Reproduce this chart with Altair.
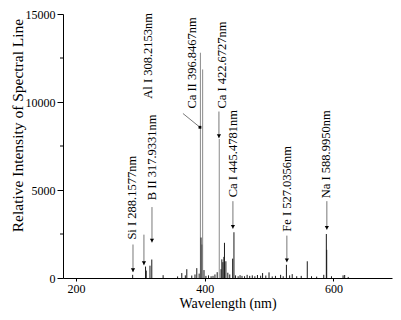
import altair as alt
import pandas as pd

# Spectrum lines: wavelength (nm) and relative intensity
wavelengths = [288.2, 308.2, 309.3, 315.1, 317.9, 335.5, 358.0, 364.5, 370.0, 372.3,
               380.0, 385.0, 387.8, 391.5, 393.4, 394.4, 396.2, 396.9, 399.0,
               402.0, 406.0, 410.0, 413.0, 416.0, 419.5, 422.7, 425.5, 426.7, 428.3,
               429.9, 430.8, 433.0, 436.0, 439.0, 443.5, 445.5, 448.0, 452.0, 455.0,
               458.0, 462.0, 466.0, 470.0, 474.0, 478.0, 482.0, 487.0, 490.0, 495.0,
               500.0, 505.0, 510.0, 518.0, 522.0, 527.0, 532.0, 536.0, 543.0, 550.0,
               559.4, 566.0, 574.0, 585.0, 589.0, 589.6, 597.0, 615.0, 617.5, 623.0]
intensities = [180, 650, 420, 700, 1050, 160, 90, 280, 150, 500,
               140, 200, 560, 250, 12800, 2300, 1900, 11850, 450,
               120, 150, 100, 120, 200, 330, 7900, 500, 1060, 900,
               1200, 2000, 950, 300, 200, 1100, 2600, 150, 100, 160,
               120, 100, 180, 120, 150, 100, 170, 130, 280, 140,
               320, 90, 120, 180, 100, 750, 150, 220, 100, 120,
               950, 100, 80, 180, 2500, 1600, 100, 150, 170, 60]

# Line identifications
label_texts = ["Si I 288.1577nm", "Al I 308.2153nm", "B II 317.9331nm", "Ca II 396.8467nm",
               "Ca I 422.6727nm", "Ca I 445.4781nm", "Fe I 527.0356nm", "Na I 588.9950nm"]
label_wl = [287.9, 312.0, 318.9, 380.2, 427.6, 444.7, 527.7, 589.0]
label_base = [2183, 10186, 4422, 9627, 9627, 4589, 2631, 4533]

# Arrows (Ca II uses a leader line instead)
arrow_wl = [288.7, 305.7, 318.2, 422.2, 443.9, 527.7, 589.8]
arrow_from = [1903, 2463, 4030, 9459, 4366, 2407, 4366]
arrow_to = [336, 728, 2015, 7948, 2798, 895, 2742]

leader_wl = [366.3]
leader_wl2 = [392.7]
leader_from = [9347]
leader_to = [8563]

minor_ticks = [2500, 7500, 12500]

spec = pd.DataFrame({"wavelength": wavelengths, "intensity": intensities})
labels = pd.DataFrame({"text": label_texts, "wl": label_wl, "base": label_base})
arrows = pd.DataFrame({"wl": arrow_wl, "y1": arrow_from, "y2": arrow_to})
leader = pd.DataFrame({"wl": leader_wl, "wl2": leader_wl2, "y1": leader_from, "y2": leader_to})
minors = pd.DataFrame({"v": minor_ticks})

FONT = "Liberation Serif"
XT = "Wavelength (nm)"
YT = "Relative Intensity of Spectral Line"
xs = alt.Scale(domain=[180, 691], nice=False, zero=False)
ys = alt.Scale(domain=[0, 15000], nice=False)

xaxis = alt.Axis(values=[200, 400, 600], tickSize=3, labelFontSize=12,
                 labelPadding=2, titlePadding=2, titleFontSize=14)
yaxis = alt.Axis(values=[0, 5000, 10000, 15000], format="d", tickSize=6, labelFontSize=12,
                 labelPadding=2, titleFontSize=15.5, titleAngle=270, titleX=-46, titleY=111,
                 titleAlign="center", titleBaseline="middle")

spectrum = alt.Chart(spec).mark_rule(strokeWidth=1).encode(
    x=alt.X("wavelength:Q", scale=xs, axis=xaxis, title=XT),
    y=alt.Y("intensity:Q", scale=ys, axis=yaxis, title=YT),
    y2=alt.datum(0),
    color=alt.when(alt.datum.intensity > 5000).then(alt.value("#8a8a8a")).otherwise(alt.value("#1a1a1a")),
)

minor = alt.Chart(minors).mark_rule(color="black", strokeWidth=1).encode(
    y=alt.Y("v:Q", scale=ys, title=YT),
    x=alt.value(-3), x2=alt.value(0),
)

text = alt.Chart(labels).mark_text(angle=270, align="left", baseline="middle",
                                    font=FONT, fontSize=12.5, color="black").encode(
    x=alt.X("wl:Q", scale=xs, title=XT),
    y=alt.Y("base:Q", scale=ys, title=YT),
    text="text:N",
)

arrow_lines = alt.Chart(arrows).mark_rule(color="#555", strokeWidth=0.8).encode(
    x=alt.X("wl:Q", scale=xs, title=XT),
    y=alt.Y("y1:Q", scale=ys, title=YT),
    y2="y2:Q",
)
arrow_heads = alt.Chart(arrows).mark_point(shape="triangle-down", filled=True, size=18,
                                           color="black", opacity=1, yOffset=-2).encode(
    x=alt.X("wl:Q", scale=xs, title=XT),
    y=alt.Y("y2:Q", scale=ys, title=YT),
)

leader_line = alt.Chart(leader).mark_rule(color="#555", strokeWidth=0.8).encode(
    x=alt.X("wl:Q", scale=xs, title=XT),
    x2="wl2:Q",
    y=alt.Y("y1:Q", scale=ys, title=YT),
    y2="y2:Q",
)
leader_dot = alt.Chart(leader).mark_point(shape="square", filled=True, size=8,
                                          color="black", opacity=1).encode(
    x=alt.X("wl2:Q", scale=xs, title=XT),
    y=alt.Y("y2:Q", scale=ys, title=YT),
)

chart = alt.layer(spectrum, minor, arrow_lines, arrow_heads, leader_line, leader_dot, text).properties(
    width=329, height=264,
    padding={"left": 55, "top": 6, "right": 1, "bottom": 34},
    autosize=alt.AutoSizeParams(type="none"),
    background="white",
).configure_view(stroke=None).configure_axis(
    labelFont=FONT, titleFont=FONT, labelColor="black", titleColor="black",
    titleFontWeight="normal", domainColor="black", tickColor="black", grid=False,
    labelFlush=False,
)

chart.save("out.html", embed_options={"renderer": "svg", "actions": False})
